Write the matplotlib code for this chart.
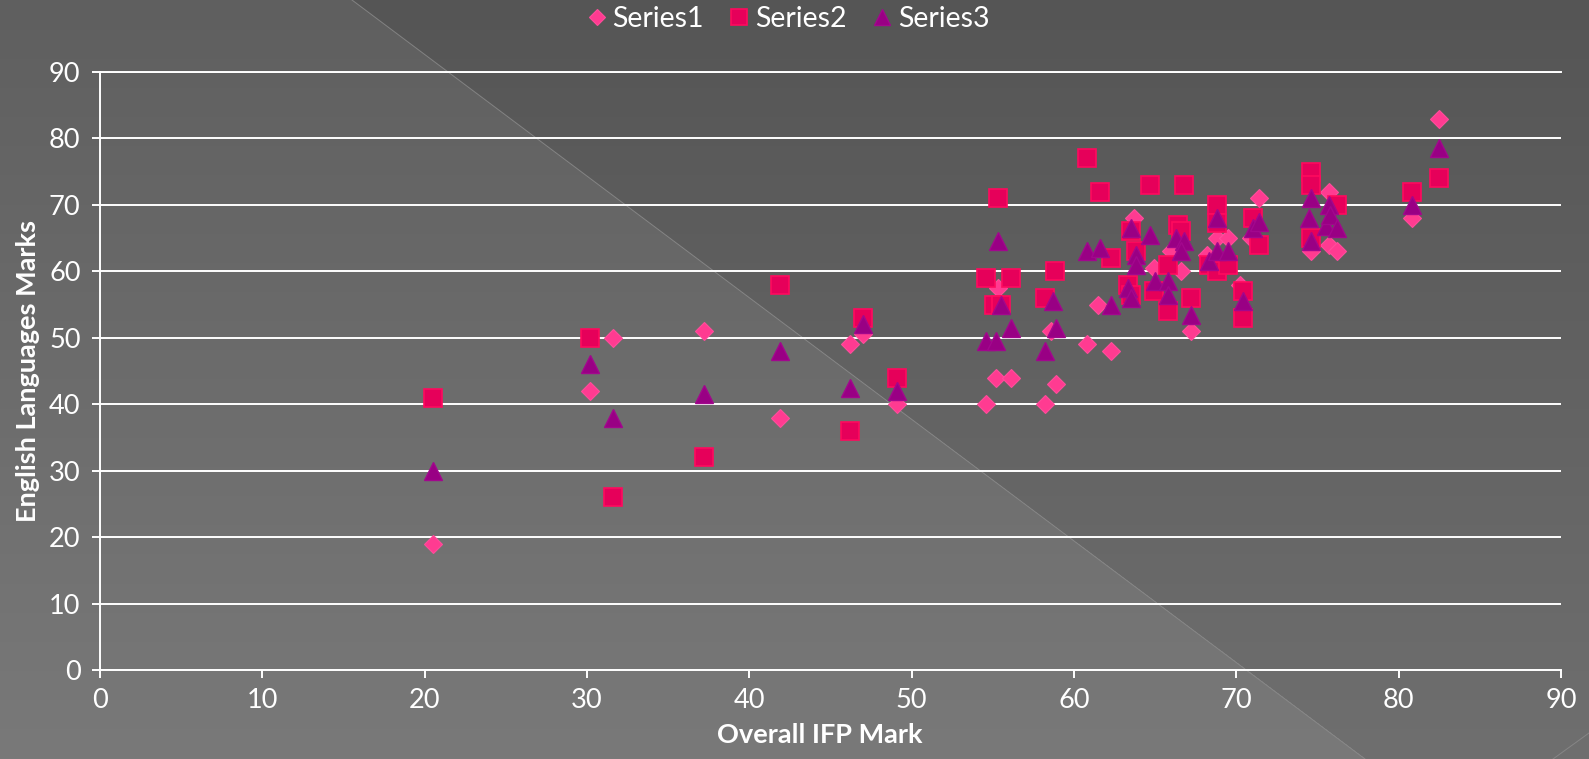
import numpy as np
import matplotlib.pyplot as plt
from matplotlib.lines import Line2D

W, H, DPI = 1589, 759, 100

# Series1 (diamonds)
s1_x = [20.5, 30.2, 31.6, 37.2, 41.9, 46.2, 47.0, 49.1, 54.6, 55.2, 55.3, 56.1,
        58.2, 58.6, 58.9, 60.8, 61.5, 62.3, 63.7, 64.9, 66.0, 66.6, 67.2, 68.2,
        68.8, 69.5, 70.2, 70.9, 71.4, 74.6, 75.7, 75.7, 76.2, 80.8, 82.5]
s1_y = [19, 42, 50, 51, 38, 49, 50.5, 40, 40, 44, 57.5, 44,
        40, 51, 43, 49, 55, 48, 68, 60.5, 63, 60, 51, 62.5,
        65, 65, 58, 65, 71, 63, 72, 64, 63, 68, 83]

# Series2 (squares)
s2_x = [20.5, 30.2, 31.6, 37.2, 41.9, 46.2, 47.0, 49.1, 54.6, 55.1, 55.5, 55.3,
        56.1, 58.2, 58.8, 60.8, 61.6, 62.3, 63.3, 63.5, 63.5, 63.8, 64.7, 64.9,
        65.8, 65.8, 66.4, 66.6, 66.8, 67.2, 68.3, 68.8, 68.8, 68.8, 69.5, 70.4,
        70.4, 71.0, 71.4, 74.6, 74.6, 74.6, 76.2, 80.8, 82.5]
s2_y = [41, 50, 26, 32, 58, 36, 53, 44, 59, 55, 55, 71,
        59, 56, 60, 77, 72, 62, 58, 66, 56.5, 63, 73, 57,
        61, 54, 67, 66, 73, 56, 61, 70, 67.3, 60, 61, 57,
        53, 68, 64, 75, 73, 65, 70, 72, 74]

# Series3 (triangles)
s3_x = [20.5, 30.2, 31.6, 37.2, 41.9, 46.2, 47.0, 49.1, 54.6, 55.2, 55.3, 55.5,
        56.1, 58.2, 58.7, 58.9, 60.8, 61.6, 62.3, 63.3, 63.5, 63.5, 63.8, 63.8,
        64.7, 65.0, 65.8, 65.8, 66.3, 66.8, 66.6, 67.2, 68.3, 68.8, 68.8, 69.5,
        70.4, 71.0, 71.4, 74.5, 74.6, 74.6, 75.5, 75.7, 75.8, 76.2, 80.8, 82.5]
s3_y = [30, 46, 38, 41.5, 48, 42.5, 52, 42, 49.5, 49.5, 64.5, 55,
        51.5, 48, 55.5, 51.5, 63, 63.5, 55, 57.5, 66.5, 56, 62.5, 61,
        65.5, 58.5, 58.5, 56.5, 65, 64.5, 63, 53.5, 61.5, 68, 63, 63,
        55.5, 66.5, 67.5, 68, 71, 64.5, 66.8, 70, 68.5, 66.5, 70, 78.5]

ticks = list(range(0, 91, 10))

plt.rcParams['font.family'] = ['Lato', 'DejaVu Sans']

fig = plt.figure(figsize=(W / DPI, H / DPI), dpi=DPI)

# grey backdrop: brightens towards the bottom, lighter wedge on the left of a diagonal
rows = np.arange(H)[:, None]
cols = np.arange(W)[None, :]
shade = 0x55 + (0x6f - 0x55) * rows / (H - 1)
split = 352 + (1365 - 352) * rows / (H - 1)
shade = shade + np.where(cols < split, 10, 0)
bg = np.repeat((shade / 255.0)[:, :, None], 3, axis=2)
fig.figimage(bg, 0, 0, origin='upper', zorder=-10)
fig.add_artist(Line2D([352 / W, 1365 / W], [1, 0], transform=fig.transFigure,
                      color='#8c8c8c', lw=0.7, alpha=0.8, zorder=-5))
fig.add_artist(Line2D([1553 / W, 1.0], [0, 26 / H], transform=fig.transFigure,
                      color='#8c8c8c', lw=0.7, alpha=0.8, zorder=-5))

ax = fig.add_axes([100 / W, (H - 670) / H, (1561 - 100) / W, (670 - 72) / H])
ax.patch.set_alpha(0)

ax.plot(s1_x, s1_y, linestyle='none', marker='D', ms=9.6, mfc='#FF3B91',
        mec='#FF4C9B', mew=0.8, label='Series1')
ax.plot(s2_x, s2_y, linestyle='none', marker='s', ms=13.2, mfc='#E6005A',
        mec='#FF0A5E', mew=1.2, label='Series2')
ax.plot(s3_x, s3_y, linestyle='none', marker='^', ms=13.4, mfc='#990084',
        mec='#A2078D', mew=1.0, label='Series3')

ax.set_xlim(0, 90)
ax.set_ylim(0, 90)
ax.set_xticks(ticks)
ax.set_yticks(ticks)
ax.set_axisbelow(True)
ax.grid(axis='y', color='white', lw=1.4)
ax.grid(axis='x', visible=False)

for side in ['left', 'bottom', 'top']:
    ax.spines[side].set_color('white')
    ax.spines[side].set_linewidth(1.4)
ax.spines['right'].set_visible(False)

ax.tick_params(direction='out', length=6, width=1.4, color='white',
               labelcolor='white', labelsize=19.5)
ax.tick_params(axis='y', pad=8)
ax.tick_params(axis='x', pad=7)

fig.text(820 / W, 1 - 735 / H, 'Overall IFP Mark', ha='center', va='center',
         fontsize=19.5, fontweight='bold', color='white')
fig.text(28 / W, 1 - 371 / H, 'English Languages Marks', ha='center', va='center',
         rotation=90, fontsize=19.5, fontweight='bold', color='white')

fig.legend(loc='center', bbox_to_anchor=(788 / W, 1 - 19 / H), ncol=3,
           frameon=False, fontsize=20.5, handlelength=0.7, handletextpad=0.2,
           columnspacing=0.9, markerscale=0.85, labelcolor='white')

fig.savefig('out.png', dpi=DPI)
